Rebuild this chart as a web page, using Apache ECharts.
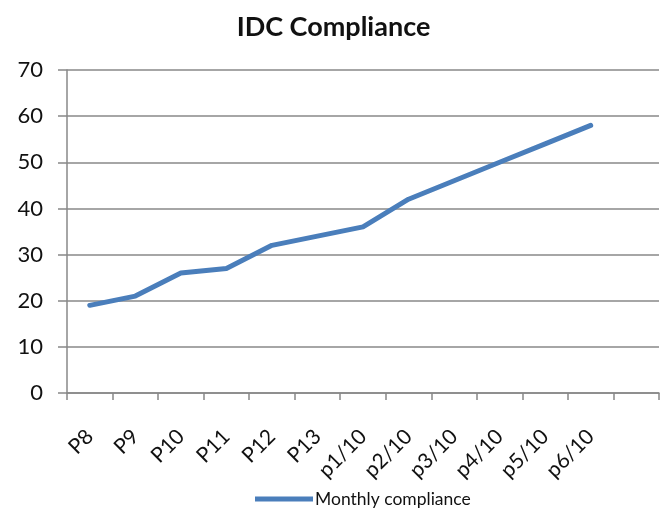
<!DOCTYPE html>
<html>
<head>
<meta charset="utf-8">
<script src="https://cdn.jsdelivr.net/npm/echarts@6/dist/echarts.min.js"></script>
<style>html,body{margin:0;padding:0;background:#fff}#c{width:667px;height:508px}</style>
</head>
<body>
<div id="c"></div>
<script>
var categories = ['P8','P9','P10','P11','P12','P13','p1/10','p2/10','p3/10','p4/10','p5/10','p6/10',''];
var compliance = [19,21,26,27,32,34,36,42,46,50,54,58];
var seriesName = 'Monthly compliance';
var titleText = 'IDC Compliance';

var chart = echarts.init(document.getElementById('c'), null, {renderer:'canvas'});
var font = 'Lato, "Open Sans", sans-serif';
chart.setOption({
  animation:false,
  backgroundColor:'#fff',
  title:{text:titleText,left:'center',top:9,textStyle:{fontFamily:font,fontWeight:'bold',fontSize:27,color:'#111'}},
  legend:{top:490,left:250,padding:[0,5],itemWidth:58,itemHeight:5,itemGap:4,icon:'rect',
    textStyle:{fontFamily:font,fontSize:17.5,color:'#111',padding:[0,0,0,-3]},data:[seriesName]},
  grid:{left:67,right:8,top:70,bottom:115,containLabel:false},
  xAxis:{type:'category',data:categories,boundaryGap:true,
    axisLine:{lineStyle:{color:'#888',width:1.5}},
    axisTick:{show:true,length:7,alignWithLabel:false,interval:0,lineStyle:{color:'#888',width:1.5}},
    axisLabel:{interval:0,rotate:45,fontFamily:font,fontSize:21,color:'#111',margin:40},
    splitLine:{show:false}},
  yAxis:{type:'value',min:0,max:70,interval:10,
    axisLine:{show:true,lineStyle:{color:'#888',width:1.5}},
    axisTick:{show:true,length:9,lineStyle:{color:'#888',width:1.5}},
    axisLabel:{fontFamily:font,fontSize:22,color:'#111',margin:24},
    splitLine:{show:true,lineStyle:{color:'#888',width:1.5}}},
  series:[{name:seriesName,type:'line',data:compliance,showSymbol:false,symbol:'none',
    lineStyle:{color:'#4a7ebb',width:5,cap:'round',join:'round'},itemStyle:{color:'#4a7ebb'}}]
});
</script>
</body>
</html>
